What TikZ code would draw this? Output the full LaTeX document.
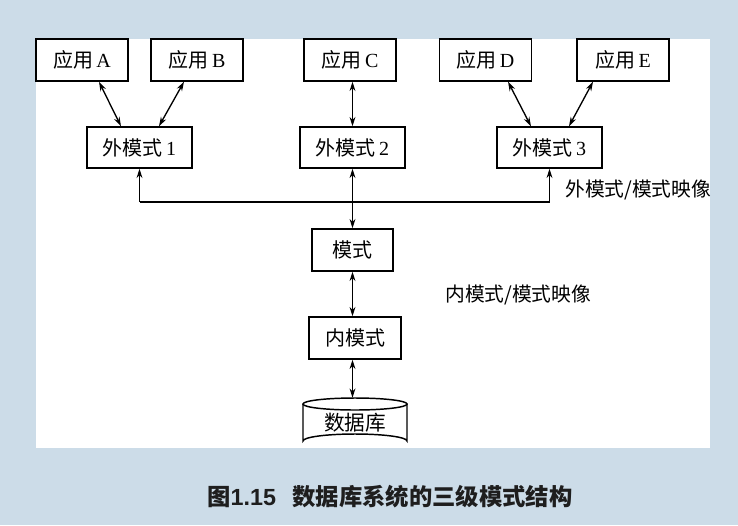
\documentclass[tikz,border=0pt]{standalone}
\usepackage{fontspec}
\setmainfont{Liberation Serif}
\newfontfamily\cjk{Noto Sans CJK SC}
\newfontfamily\capl{Liberation Sans}
\usetikzlibrary{arrows.meta}
\definecolor{bgblue}{RGB}{204,220,232}
\definecolor{captxt}{RGB}{30,30,30}
\begin{document}
\begin{tikzpicture}[x=0.75pt,y=-0.75pt,
  box/.style={draw=black,line width=1.1pt,fill=white,inner sep=0pt,
    minimum width=69pt,minimum height=31.5pt,font=\fontsize{15}{15}\selectfont},
  wbox/.style={box,minimum width=78.75pt,minimum height=30.75pt},
  conn/.style={line width=1pt,{Stealth[length=7pt,width=4.4pt]}-{Stealth[length=7pt,width=4.4pt]}},
  upar/.style={line width=1pt,-{Stealth[length=7pt,width=4.4pt]}},
  lbl/.style={anchor=west,inner sep=0pt,font=\fontsize{14.8}{14.8}\selectfont\cjk}]
\useasboundingbox (0,0) rectangle (738,525);
\fill[bgblue] (0,0) rectangle (738,525);
\fill[white] (36,39) rectangle (710,448);

\node[box] (A) at (82,60) {{\cjk 应用}\,A};
\node[box] (B) at (197,60) {{\cjk 应用}\,B};
\node[box] (C) at (350,60) {{\cjk 应用}\,C};
\node[box] (D) at (485.5,60) {{\cjk 应用}\,D};
\node[box] (E) at (623,60) {{\cjk 应用}\,E};

\node[wbox] (w1) at (139.5,147.5) {{\cjk 外模式}\,1};
\node[wbox] (w2) at (352.5,147.5) {{\cjk 外模式}\,2};
\node[wbox] (w3) at (549.5,147.5) {{\cjk 外模式}\,3};

\node[box,minimum width=60.75pt] (S) at (352.5,250) {\cjk 模式};
\node[box] (I) at (355,338) {\cjk 内模式};

% cylinder
\fill[white] (303,404) -- (303,441) arc[start angle=180,end angle=360,x radius=52,y radius=7]
  -- (407,404) arc[start angle=0,end angle=180,x radius=52,y radius=6] -- cycle;
\draw[line width=1.1pt] (303,404) -- (303,441) arc[start angle=180,end angle=360,x radius=52,y radius=7] -- (407,404);
\draw[line width=1.1pt] (355,404) ellipse[x radius=52,y radius=6];
\node[inner sep=0pt,minimum width=78pt,minimum height=37.5pt,font=\fontsize{15.5}{15.5}\selectfont\cjk] (db) at (355,423) {数据库};

% connectors
\draw[conn] ([xshift=12.75pt]A.south) -- ([xshift=-13.9pt]w1.north);
\draw[conn] ([xshift=-9.75pt]B.south) -- ([xshift=14.6pt]w1.north);
\draw[conn] (C.south -| w2.north) -- (w2.north);
\draw[conn] ([xshift=16.9pt]D.south) -- ([xshift=-13.9pt]w3.north);
\draw[conn] ([xshift=-22.5pt]E.south) -- ([xshift=14.6pt]w3.north);

\coordinate (busy) at (0,202);
\draw[line width=1pt] (w1.south |- busy) -- (w3.south |- busy);
\draw[upar] (w1.south |- busy) -- (w1.south);
\draw[upar] (w3.south |- busy) -- (w3.south);
\draw[conn] (w2.south) -- (S.north);
\draw[conn] (S.south) -- (S.south |- I.north);
\draw[conn] (I.south -| S.south) -- (S.south |- db.north);

\node[lbl] (m1) at (565,190) {外模式/模式映像};
\node[lbl] (m2) at (445,295) {内模式/模式映像};

\node[anchor=west,inner sep=0pt,text=captxt,font=\fontsize{17.5}{17.5}\selectfont\bfseries] (cap) at (207,497)
  {{\cjk 图}{\capl 1.15}\hspace{0.7em}{\cjk 数据库系统的三级模式结构}};
\end{tikzpicture}
\end{document}
